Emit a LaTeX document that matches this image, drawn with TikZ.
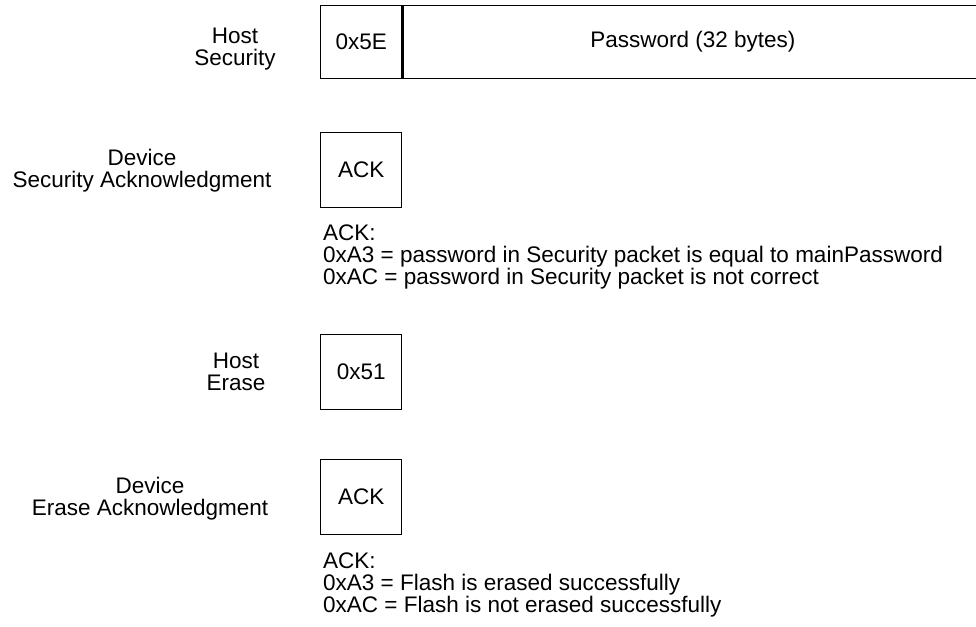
\documentclass[tikz,border=0pt]{standalone}
\usepackage{fontspec}
\setmainfont{Liberation Sans}
\begin{document}
\begin{tikzpicture}[x=1pt,y=-1pt,
  box/.style={draw, line width=1.3pt, minimum width=81pt, minimum height=75pt, inner sep=0pt, anchor=north west, font=\fontsize{22.5}{22}\selectfont},
  lbl/.style={align=center, inner sep=0pt, font=\fontsize{22.5}{22}\selectfont},
  note/.style={align=left, inner sep=0pt, anchor=north west, font=\fontsize{22.5}{22}\selectfont}]
\clip (0,0) rectangle (976,626);
\node[box, minimum height=73pt] (op1) at (320,5) {0x5E};
\node[box, minimum height=73pt, minimum width=580pt] (pw) at (op1.north east) {Password (32 bytes)};
\node[box] (ack1) at (320,132) {ACK};
\node[box] (op2) at (320,334) {0x51};
\node[box] (ack2) at (320,459) {ACK};
\node[lbl] (h1) at (235,49) {Host\\Security};
\node[lbl] (d1) at (142,171) {Device\\Security Acknowledgment};
\node[lbl] (h2) at (236,372) {Host\\Erase};
\node[lbl] (d2) at (150,499) {Device\\Erase Acknowledgment};
\node[note] (n1) at (323,225) {ACK:\\0xA3 = password in Security packet is equal to mainPassword\\0xAC = password in Security packet is not correct};
\node[note] (n2) at (323,553) {ACK:\\0xA3 = Flash is erased successfully\\0xAC = Flash is not erased successfully};
\end{tikzpicture}
\end{document}
